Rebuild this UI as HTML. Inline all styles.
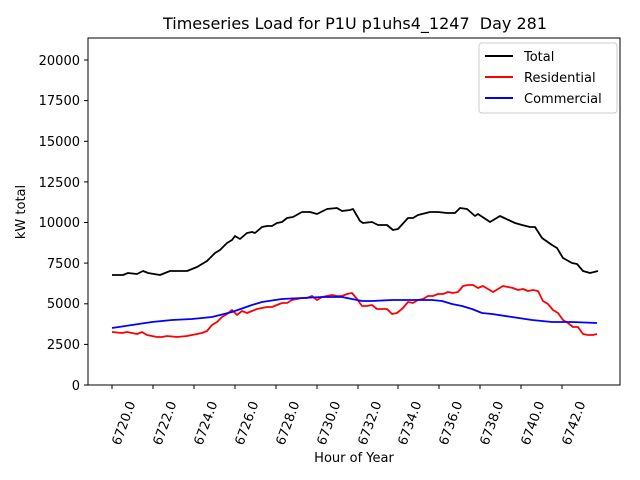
<!DOCTYPE html>
<html><head><meta charset="utf-8"><style>body{margin:0;background:#fff}svg{display:block;font-family:"DejaVu Sans","Liberation Sans",sans-serif}</style></head><body>
<svg width="640" height="480" viewBox="0 0 640 480" xmlns="http://www.w3.org/2000/svg">
<rect width="640" height="480" fill="#fff"/>
<text x="355" y="29" font-size="16" text-anchor="middle">Timeseries Load for P1U p1uhs4_1247 &#160;Day 281</text>
<g font-size="13" text-anchor="end">
<text x="80" y="390">0</text><text x="80" y="349">2500</text><text x="80" y="308">5000</text><text x="80" y="268">7500</text><text x="80" y="227">10000</text><text x="80" y="187">12500</text><text x="80" y="146">15000</text><text x="80" y="105">17500</text><text x="80" y="65">20000</text>
</g>
<g stroke="#000" stroke-width="1">
<line x1="84" y1="385" x2="88" y2="385"/><line x1="84" y1="344.4" x2="88" y2="344.4"/><line x1="84" y1="303.8" x2="88" y2="303.8"/><line x1="84" y1="263.1" x2="88" y2="263.1"/><line x1="84" y1="222.5" x2="88" y2="222.5"/><line x1="84" y1="181.9" x2="88" y2="181.9"/><line x1="84" y1="141.3" x2="88" y2="141.3"/><line x1="84" y1="100.6" x2="88" y2="100.6"/><line x1="84" y1="60" x2="88" y2="60"/>
<line x1="112" y1="385" x2="112" y2="389"/><line x1="153" y1="385" x2="153" y2="389"/><line x1="194" y1="385" x2="194" y2="389"/><line x1="235" y1="385" x2="235" y2="389"/><line x1="276" y1="385" x2="276" y2="389"/><line x1="317" y1="385" x2="317" y2="389"/><line x1="358" y1="385" x2="358" y2="389"/><line x1="398" y1="385" x2="398" y2="389"/><line x1="439" y1="385" x2="439" y2="389"/><line x1="480" y1="385" x2="480" y2="389"/><line x1="521" y1="385" x2="521" y2="389"/><line x1="562" y1="385" x2="562" y2="389"/>
</g>
<g font-size="13">
<text transform="translate(120,446) rotate(-70)">6720.0</text><text transform="translate(161,446) rotate(-70)">6722.0</text><text transform="translate(202,446) rotate(-70)">6724.0</text><text transform="translate(243,446) rotate(-70)">6726.0</text><text transform="translate(284,446) rotate(-70)">6728.0</text><text transform="translate(325,446) rotate(-70)">6730.0</text><text transform="translate(366,446) rotate(-70)">6732.0</text><text transform="translate(406,446) rotate(-70)">6734.0</text><text transform="translate(447,446) rotate(-70)">6736.0</text><text transform="translate(488,446) rotate(-70)">6738.0</text><text transform="translate(529,446) rotate(-70)">6740.0</text><text transform="translate(570,446) rotate(-70)">6742.0</text>
</g>
<text x="354" y="462" font-size="13" text-anchor="middle">Hour of Year</text>
<text transform="translate(25,212) rotate(-90)" font-size="13" text-anchor="middle">kW total</text>
<g fill="none" stroke-width="1.8" stroke-linejoin="round">
<polyline stroke="#000" points="112,275 123,275 128,273 137,274 143,271 148,273 160,275 170,271 187,271 197,267 207,261 215,253 220,250 227,243 232,240 235,236 240,239 247,233 252,232 255,233 262,227 267,226 272,226 277,223 282,222 287,218 293,217 302,212 310,212 317,214 327,209 337,208 342,211 350,210 353,209 360,221 363,223 372,222 378,225 387,225 393,230 398,229 408,218 413,218 418,215 430,212 438,212 447,213 455,213 460,208 467,209 475,216 478,214 490,222 500,216 515,223 522,225 530,227 535,227 542,238 552,245 557,248 563,258 572,263 577,264 583,271 590,273 598,271"/>
<polyline stroke="#f00" points="112,332 122,333 127,332 137,334 142,332 147,335 157,337 162,337 167,336 177,337 187,336 192,335 202,333 207,331 212,325 217,322 222,317 227,314 232,310 237,315 242,311 247,313 252,311 257,309 267,307 272,307 277,305 282,303 287,303 292,300 297,299 302,298 307,298 312,296 317,300 322,297 327,296 332,295 337,296 342,296 347,294 352,293 357,299 362,306 367,306 372,305 377,309 382,309 387,309 392,314 397,313 403,308 408,302 413,303 418,300 423,299 428,296 433,296 438,294 443,294 448,292 453,293 458,292 463,286 468,285 473,285 478,288 483,286 488,289 493,292 498,289 503,286 508,287 513,288 518,290 523,289 528,291 533,290 538,291 543,301 548,304 553,310 558,313 563,320 568,323 573,327 578,327 583,334 588,335 593,335 597,334"/>
<polyline stroke="#00f" points="112,328 132,325 152,322 172,320 192,319 212,317 232,312 252,305 262,302 282,299 302,298 322,297 342,297 352,299 362,301 372,301 392,300 412,300 432,300 442,301 452,304 462,306 472,309 482,313 492,314 512,317 532,320 552,322 572,322 597,323"/>
</g>
<rect x="88" y="38" width="532" height="347" fill="none" stroke="#000" stroke-width="1"/>
<rect x="479" y="43" width="138" height="70" fill="#fff" stroke="#ccc" rx="3"/>
<g stroke-width="2"><line x1="485" y1="56" x2="513" y2="56" stroke="#000"/><line x1="485" y1="77" x2="513" y2="77" stroke="#f00"/><line x1="485" y1="98" x2="513" y2="98" stroke="#00f"/></g>
<g font-size="13"><text x="524" y="61">Total</text><text x="524" y="82">Residential</text><text x="524" y="103">Commercial</text></g>
</svg>
</body></html>
